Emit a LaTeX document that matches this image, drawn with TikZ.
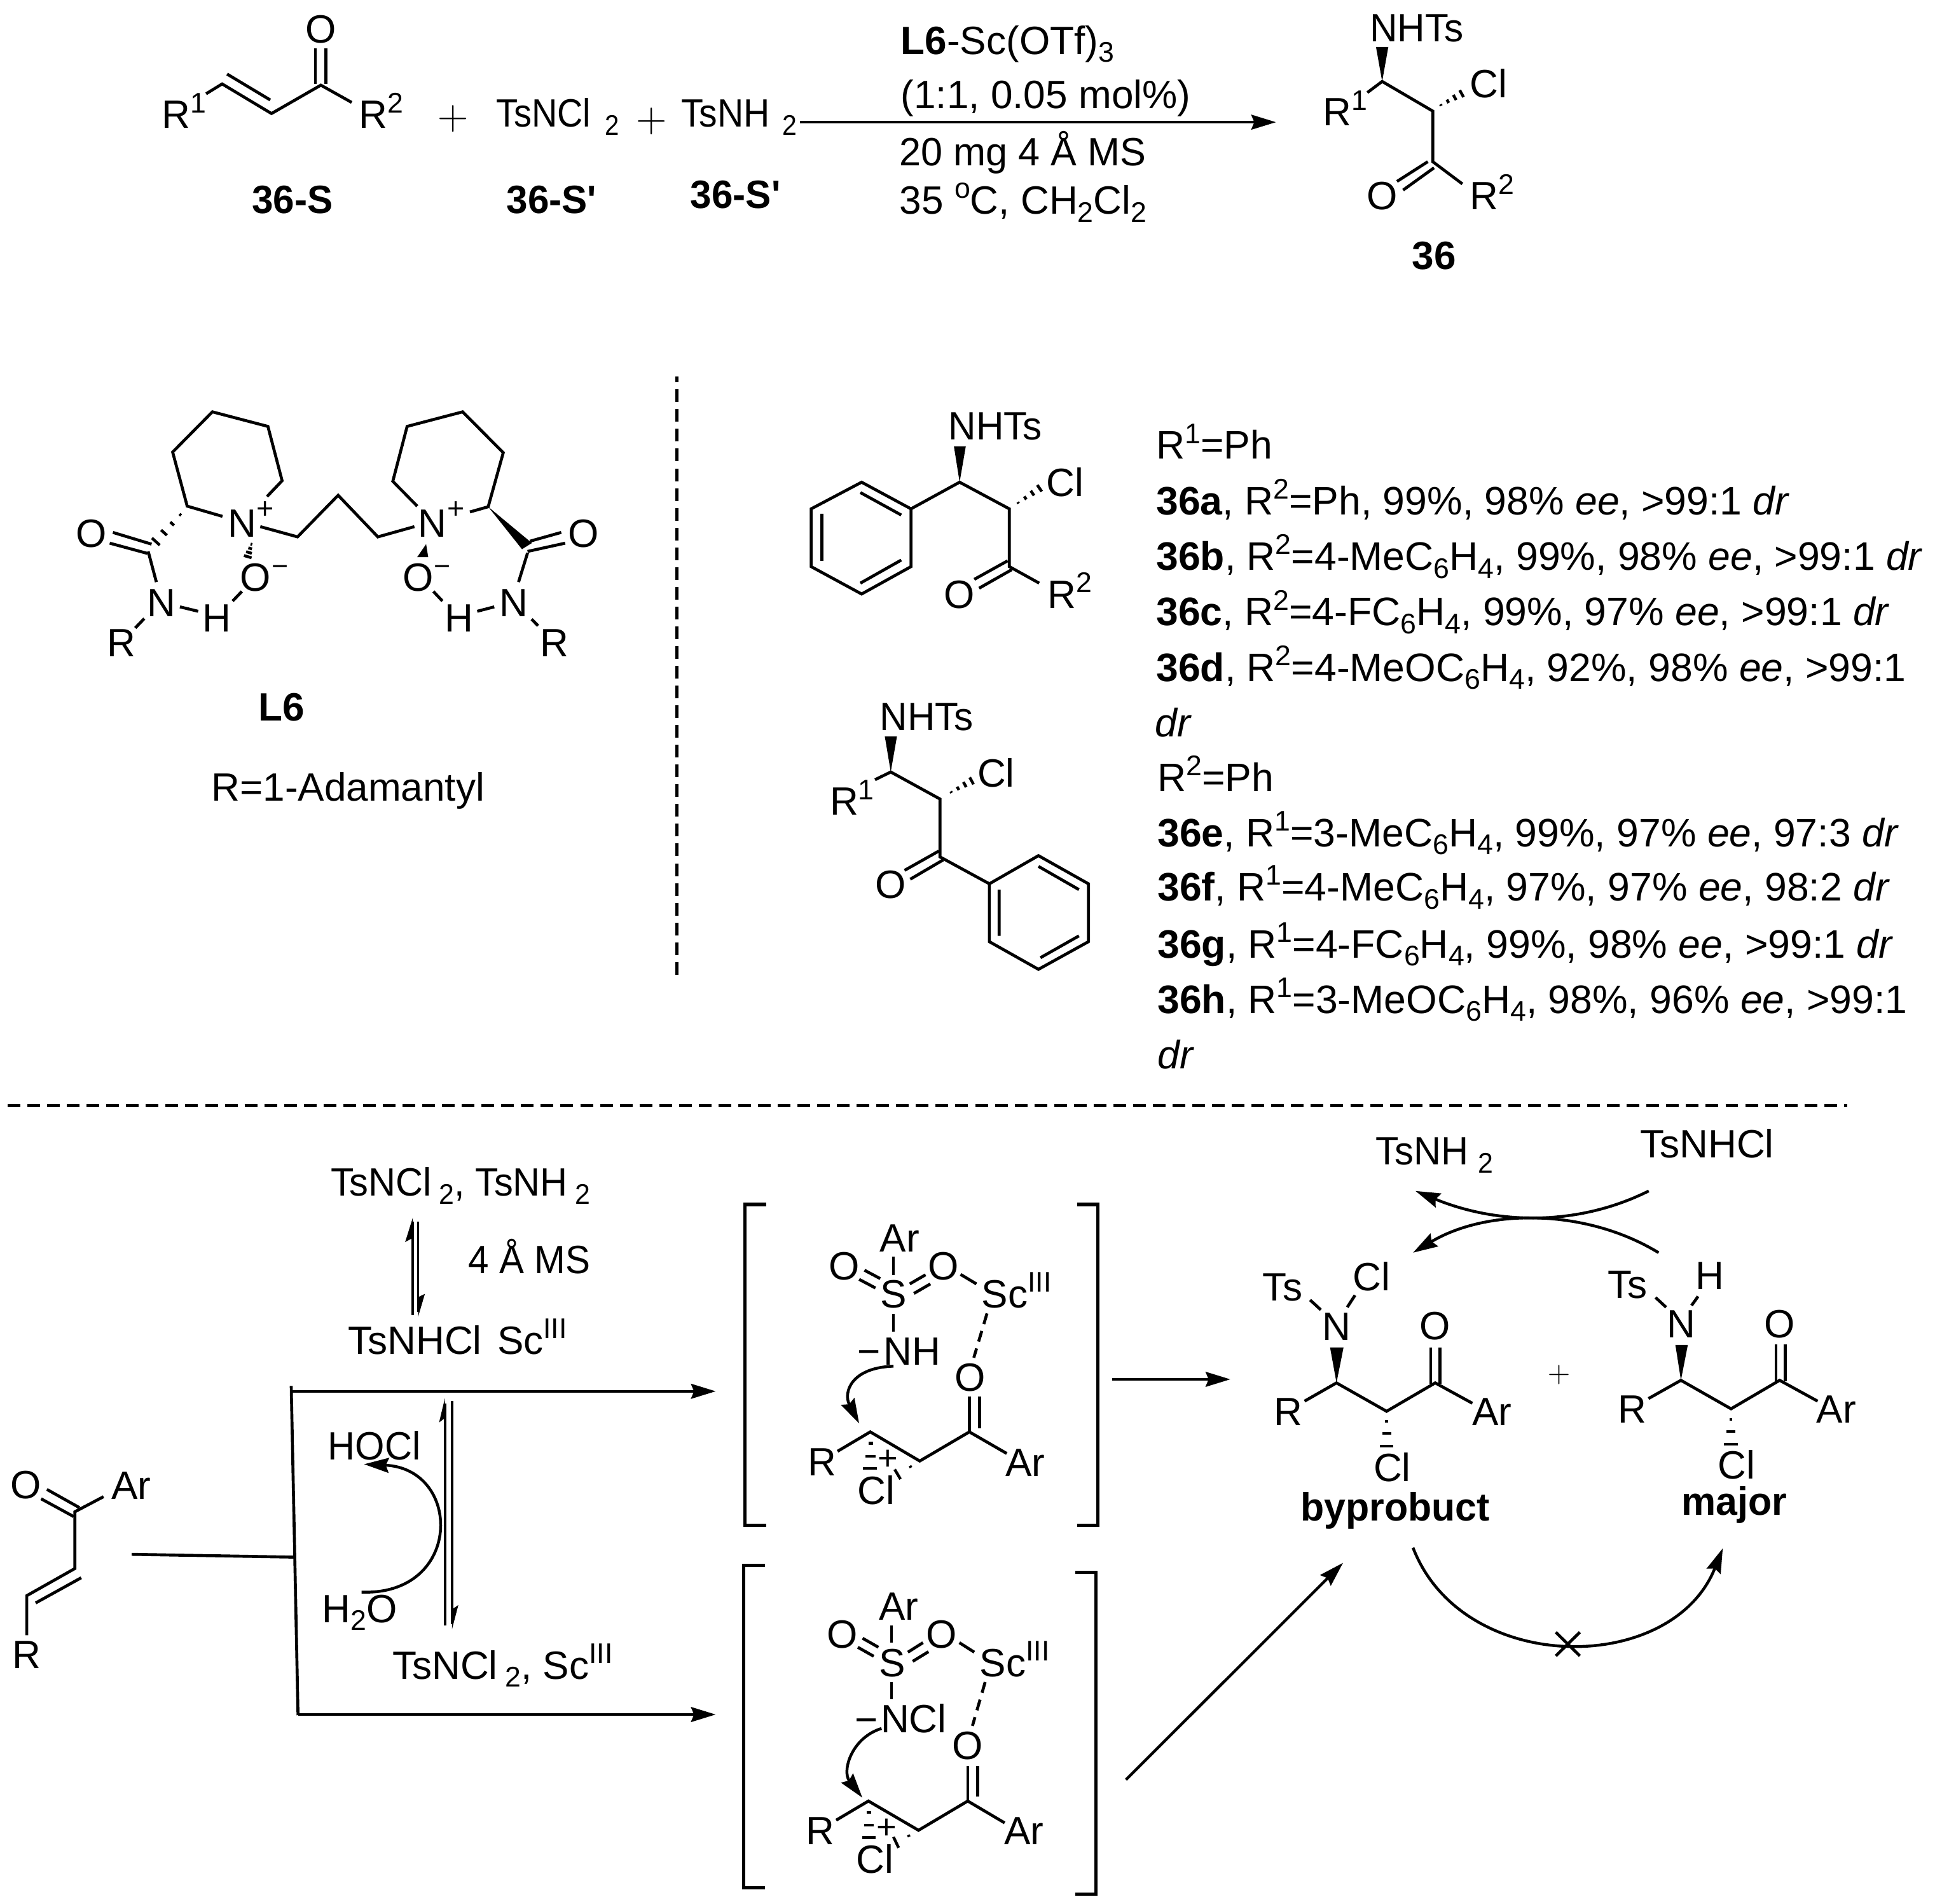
\documentclass[tikz,border=0pt]{standalone}
\usepackage{fontspec}
\usepackage{graphicx}
\setmainfont{Liberation Sans}
\usetikzlibrary{arrows.meta,calc}
\newcount\tn
\newcommand\up[1]{\raisebox{6.4pt}{\fontsize{11.5}{11.5}\selectfont #1}}
\newcommand\dn[1]{\raisebox{-3.2pt}{\fontsize{11.5}{11.5}\selectfont #1}}
\newcommand\Tc[4][1]{\global\advance\tn by 1\relax\node[lab,anchor=base] (t\the\tn) at (#2,#3) {\scalebox{#1}[1]{#4}};}
\newcommand\Tl[4][1]{\global\advance\tn by 1\relax\node[lab,anchor=base west] (t\the\tn) at (#2,#3) {\scalebox{#1}[1]{#4}};}
\newcommand\Li[3]{\global\advance\tn by 1\relax\node[lab,anchor=base west,font=\fontsize{16.1}{18}\selectfont] (t\the\tn) at (#1,#2) {#3};}
\newcommand\hb[5][3]{\coordinate (ha) at (#2,#3);\coordinate (hz) at (#4,#5);%
 \foreach \k in {0.08,0.36,0.64,0.92}{\pgfmathsetmacro\w{(0.15+\k)*#1*0.5}%
 \draw[hs] ($(ha)!\k!(hz)!\w pt!90:(hz)$) -- ($(ha)!\k!(hz)!\w pt!-90:(hz)$);}}
\newcommand\qq{\textquotesingle}
\tikzset{
 lab/.style={inner sep=0pt,outer sep=0pt,font=\fontsize{16}{18}\selectfont},
 bond/.style={line width=1.2pt,line join=miter},
 hs/.style={line width=1.15pt},
 arr/.style={line width=1.15pt,-{Stealth[length=10pt,width=6pt,inset=1.2pt]}},
 sep/.style={line width=1.3pt,dash pattern=on 5.15pt off 2.85pt},
 dsh/.style={line width=1.2pt,dash pattern=on 4.5pt off 2.9pt},
}
\begin{document}
\begin{tikzpicture}[x=0.5pt,y=-0.5pt]
\useasboundingbox (0,0) rectangle (1568,1542.7);
\fill[white] (0,0) rectangle (1568,1542.7);
% --- top scheme ---
\draw[bond] (167,76) -- (180,68) -- (220,92) -- (260,69) -- (285,83);
\draw[bond] (184,60) -- (219,81);
\draw[bond] (255.5,68) -- (255.5,39) (264,68) -- (264,39);
\Tc{260}{35}{O}
\Tl{131}{104}{R\up{1}}
\Tl{291}{104}{R\up{2}}
\Tc{367}{105}{\fontsize{18.7}{19}\selectfont$+$}
\Tl[.9]{402}{103}{TsNCl\hspace{6.5pt}\dn{2}}
\Tc{528}{107}{\fontsize{18.7}{19}\selectfont$+$}
\Tl[.92]{552}{103}{TsNH\hspace{5.5pt}\dn{2}}
\Tc[.97]{237}{173}{\textbf{36-S}}
\Tc[.97]{447}{173}{\textbf{36-S\qq}}
\Tc[.97]{596}{169}{\textbf{36-S\qq}}
\draw[arr] (648,99) -- (1034,99);
\Tl{730}{44}{\textbf{L6}-Sc(OTf)\dn{3}}
\Tl{730}{87.6}{(1:1, 0.05 mol\%)}
\Tl[.985]{729}{134}{20 mg 4 Å MS}
\Tl{729}{173.5}{35 \up{o}C, CH\dn{2}Cl\dn{2}}
% product 36
\Tl[.97]{1110}{33.5}{NHTs}
\fill (1120,66) -- (1115,38) -- (1125,38) -- cycle;
\draw[bond] (1108,75) -- (1120,66) -- (1161,90) -- (1161,131) -- (1185,149);
\draw[bond] (1157,131) -- (1132,147) (1162,136) -- (1137,154);
\hb[3]{1166}{86}{1186}{75}
\Tl{1191}{79}{Cl}
\Tc{1120}{170}{O}
\Tl{1191}{170}{R\up{2}}
\Tl{1072}{102}{R\up{1}}
\Tc{1162}{218}{\textbf{36}}
% --- L6 ---
\draw[bond] (216.4,402.3) -- (228.6,389.5) -- (217.1,345.5) -- (172.1,333.7) -- (139.9,366.3) -- (151.7,410.1) -- (180.3,418.4);
\hb[4]{148}{415}{124.4}{440.9}
\draw[bond] (91.5,431.4) -- (122.8,440.9) (88.9,440.1) -- (119.5,448.4);
\draw[bond] (120.1,446.8) -- (126.7,471.6);
\Tc{74.1}{443.2}{O}
\Tc{131}{499.5}{N}
\draw[bond] (116.9,501.2) -- (109.6,508.8);
\Tc{98.5}{532}{R}
\draw[bond] (145.8,491.7) -- (160.6,495.3);
\Tc{175.7}{511.8}{H}
\draw[bond] (188.5,487) -- (196,479.2);
\Tc{207.2}{478.7}{O}
\Tc{227}{466.7}{\fontsize{11.5}{12}\selectfont −}
\Tc{196.4}{435}{N}
\Tc{214.8}{420}{\fontsize{12}{12}\selectfont +}
\hb[3]{204}{440}{200.5}{452}
\draw[bond] (210.9,426.7) -- (241.1,435) -- (274,401.3) -- (306.2,435) -- (335.8,426.7);
\Tc{350.6}{435}{N}
\Tc{369.3}{420}{\fontsize{12}{12}\selectfont +}
\draw[bond] (338.1,410.1) -- (318.3,390) -- (329.9,345.5) -- (374.9,333.7) -- (407.8,366.8) -- (395.6,410.6) -- (380.8,414.8);
\fill (395.6,410.6) -- (423,445) -- (431,440) -- cycle;
\draw[bond] (429.5,438.5) -- (454.8,431.4) (427.5,446.8) -- (458,440.1);
\Tc{472.8}{443.2}{O}
\draw[bond] (427.5,448) -- (420.2,471.6);
\Tc{416.3}{499.5}{N}
\draw[bond] (430.8,501.7) -- (436,507);
\Tc{449.2}{532}{R}
\draw[bond] (400.5,491.7) -- (386.7,495.3);
\Tc{371.9}{511.8}{H}
\draw[bond] (358.5,487) -- (351.2,479.2);
\Tc{338.7}{478.7}{O}
\Tc{358.6}{466.7}{\fontsize{11.5}{12}\selectfont −}
\fill (345.3,440.9) -- (338,451.5) -- (347,451.5) -- cycle;
\Tc{228}{584}{\textbf{L6}}
\Tc{282}{649}{R=1-Adamantyl}
% separators
\draw[sep] (548.4,789.8) -- (548.4,305);
\draw[sep] (6.2,896) -- (1497,896);
% --- middle structures ---
\Tl[.97]{768.6}{356.3}{NHTs}
\fill (777.6,390.7) -- (773,361.7) -- (782.6,361.7) -- cycle;
\draw[bond] (698.2,390.7) -- (738.2,412.3) -- (738.2,459.1) -- (698.2,481.3) -- (657.3,459.1) -- (657.3,412.3) -- cycle;
\draw[bond] (697.2,399.1) -- (730.3,417.3) (730.3,453.8) -- (697.2,472.5) (666,416.3) -- (666,454.4);
\draw[bond] (738.2,412.3) -- (777.6,390.7) -- (817.9,412.3) -- (817.9,459.1) -- (842.1,472.5);
\draw[bond] (816.5,454.4) -- (789.5,469.4) (819.8,461.6) -- (793.4,476.6);
\Tc{777.6}{492.8}{O}
\Tl{849}{492.8}{R\up{2}}
\hb[3]{823.4}{408.5}{844}{394.5}
\Tl{848}{402.3}{Cl}
\Tl[.97]{713}{591.8}{NHTs}
\fill (721.8,625.5) -- (717,596.8) -- (726.8,596.8) -- cycle;
\draw[bond] (709,631.8) -- (721.8,625.5) -- (761.7,647.4) -- (761.7,694.3) -- (801.7,716.1);
\Tl{672.5}{660.5}{R\up{1}}
\hb[3]{769.2}{642.7}{788.9}{631.8}
\Tl{792}{637.4}{Cl}
\draw[bond] (760.7,689.6) -- (733,705.2) (764.2,696.8) -- (737.6,712.4);
\Tc{721.8}{728}{O}
\draw[bond] (801.7,716.1) -- (841.5,693.3) -- (882,716.1) -- (882,763) -- (841.5,785.4) -- (801.7,763) -- cycle;
\draw[bond] (841.5,702) -- (874.3,720.8) (874.3,758.3) -- (843.1,776) (809.6,720.8) -- (809.6,758.3);
% result list
\Li{937}{372}{R\up{1}=Ph}
\Li{937}{417}{\textbf{36a}, R\up{2}=Ph, 99\%, 98\% \textit{ee}, >99:1 \textit{dr}}
\Li{937}{462}{\textbf{36b}, R\up{2}=4-MeC\dn{6}H\dn{4}, 99\%, 98\% \textit{ee}, >99:1 \textit{dr}}
\Li{937}{507}{\textbf{36c}, R\up{2}=4-FC\dn{6}H\dn{4}, 99\%, 97\% \textit{ee}, >99:1 \textit{dr}}
\Li{937}{552}{\textbf{36d}, R\up{2}=4-MeOC\dn{6}H\dn{4}, 92\%, 98\% \textit{ee}, >99:1}
\Li{936}{597}{\textit{dr}}
\Li{938}{641}{R\up{2}=Ph}
\Li{938}{686}{\textbf{36e}, R\up{1}=3-MeC\dn{6}H\dn{4}, 99\%, 97\% \textit{ee}, 97:3 \textit{dr}}
\Li{938}{730}{\textbf{36f}, R\up{1}=4-MeC\dn{6}H\dn{4}, 97\%, 97\% \textit{ee}, 98:2 \textit{dr}}
\Li{938}{776}{\textbf{36g}, R\up{1}=4-FC\dn{6}H\dn{4}, 99\%, 98\% \textit{ee}, >99:1 \textit{dr}}
\Li{938}{821}{\textbf{36h}, R\up{1}=3-MeOC\dn{6}H\dn{4}, 98\%, 96\% \textit{ee}, >99:1}
\Li{938}{866}{\textit{dr}}
% --- bottom left ---
\Tl[.96]{268}{969.2}{TsNCl\hspace{3pt}\dn{2}, TsNH\hspace{3pt}\dn{2}}
\draw[line width=1pt] (334.5,1065.5) -- (334.5,990) (338.8,990) -- (338.8,1063);
\fill (334.5,986.6) -- (328.3,1006.4) -- (334.5,1003) -- cycle;
\fill (338.8,1067) -- (344.3,1048.4) -- (338.8,1051) -- cycle;
\Tl[.94]{379.7}{1031.7}{4 Å MS}
\Tl{282}{1097.4}{TsNHCl}
\Tl{403}{1097.4}{Sc\up{III}}
\draw[bond] (236,1123) -- (241.5,1389.8);
\draw[arr] (236,1127.3) -- (580,1127.3);
\draw[arr] (241.5,1389.2) -- (580,1389.2);
\draw[bond] (106.7,1259.4) -- (239.4,1261.7);
\draw[line width=1pt] (360.5,1316.9) -- (360.5,1137) (366.3,1135) -- (366.3,1316);
\fill (360.5,1132.9) -- (355.8,1152.6) -- (360.5,1149) -- cycle;
\fill (366.3,1320) -- (371.4,1300.5) -- (366.3,1304) -- cycle;
\draw[arr] (293,1290) .. controls (375,1293) and (375,1190) .. (295,1186.4);
\Tl[.96]{265.8}{1183}{HOCl}
\Tl{261}{1314.6}{H\dn{2}O}
\Tl{318}{1360.6}{TsNCl\hspace{3pt}\dn{2}, Sc\up{III}}
\Tc{21}{1214}{O}
\Tl{90.4}{1215}{Ar}
\draw[bond] (83.9,1212.7) -- (60.7,1224.9) -- (60.7,1270.9) -- (21.7,1292.9) -- (21.7,1325);
\draw[bond] (65.8,1278.4) -- (28.9,1298.8);
\draw[bond] (38,1206.8) -- (64.4,1221.6) (33.3,1214.4) -- (59.7,1228.8);
\Tc{21.7}{1352}{R}
% --- bracket A ---
\draw[line width=1.35pt] (620.8,975.9) -- (603.7,975.9) -- (603.7,1235.9) -- (620.8,1235.9);
\draw[line width=1.35pt] (872.8,975.9) -- (889.5,975.9) -- (889.5,1235.9) -- (872.8,1235.9);
\Tc{729}{1014.2}{Ar}
\draw[bond] (724,1018.2) -- (724,1032.9) (724,1064.8) -- (724,1079);
\Tc{724}{1059.6}{S}
\Tc{684}{1037}{O}
\draw[bond] (700.5,1029.2) -- (713.3,1036) (696.2,1036.6) -- (709.4,1043.6);
\Tc{764.5}{1037}{O}
\draw[bond] (750,1032.9) -- (737.2,1040.3) (753.9,1040.3) -- (740.6,1048);
\draw[bond] (778.4,1032.6) -- (791.2,1040.3);
\Tl{795.5}{1059.6}{Sc\up{III}}
\draw[dsh] (799.8,1064.2) -- (789.1,1100.1);
\Tc{785.9}{1127.3}{O}
\draw[bond] (785.5,1131.4) -- (785.5,1160.2) (793.8,1131.4) -- (793.8,1157.1);
\Tc{704}{1106}{\fontsize{16}{16}\selectfont −}
\Tl{716}{1106}{NH}
\draw[arr] (724,1107) .. controls (690,1108) and (683,1128) .. (696.2,1153.4);
\Tc{666}{1195.8}{R}
\draw[bond] (678.7,1175.9) -- (705.2,1160.2) -- (745.3,1183.8) -- (785.5,1160.2) -- (815.8,1177.7);
\Tl{814.7}{1196}{Ar}
\draw[hs] (703.7,1169.4) -- (707.5,1169.4) (701.5,1180.1) -- (709.6,1180.1) (699.4,1189.9) -- (710.7,1189.9);
\Tc{719.7}{1191}{\fontsize{14}{14}\selectfont +}
\Tl{695}{1218.8}{Cl}
\draw[hs] (737.4,1187.6) -- (738.2,1189.2) (725,1190.6) -- (729.7,1198.5);
% --- bracket B ---
\draw[line width=1.35pt] (620,1268.2) -- (602.6,1268.2) -- (602.6,1529.4) -- (620,1529.4);
\draw[line width=1.35pt] (871.4,1274) -- (888,1274) -- (888,1534.9) -- (871.4,1534.9);
\Tc{728.4}{1312.4}{Ar}
\draw[bond] (722.5,1316.8) -- (722.5,1331) (722.5,1362.9) -- (722.5,1377);
\Tc{722.9}{1358.3}{S}
\Tc{682.7}{1335.2}{O}
\draw[bond] (699,1327.4) -- (711.8,1334.7) (695.1,1334.7) -- (708,1342);
\Tc{762.8}{1335.2}{O}
\draw[bond] (747.9,1331) -- (735.7,1338.7) (752.4,1338.3) -- (739.6,1346.1);
\draw[bond] (777.4,1331) -- (789.5,1338.7);
\Tl{794}{1358.3}{Sc\up{III}}
\draw[dsh] (798.3,1362.9) -- (788,1398.4);
\Tc{784.2}{1425.3}{O}
\draw[bond] (784.2,1430.7) -- (784.2,1459.3) (792.3,1430.7) -- (792.3,1455.7);
\Tc{702.3}{1404.6}{\fontsize{16}{16}\selectfont −}
\Tl{713.7}{1403.8}{NCl}
\draw[arr] (714.3,1400.5) .. controls (690,1408) and (682,1435) .. (698.8,1456.6);
\Tc{664.6}{1494.8}{R}
\draw[bond] (677.6,1474.8) -- (703.7,1459.3) -- (744.3,1483) -- (784.2,1459.3) -- (814.1,1477);
\Tl{813.7}{1494.8}{Ar}
\draw[hs] (702.2,1468.4) -- (705.8,1468.4) (700,1478.8) -- (708,1478.8) (698.8,1488.8) -- (709.7,1488.8);
\Tc{718.6}{1490}{\fontsize{14}{14}\selectfont +}
\Tl{694}{1517.6}{Cl}
\draw[hs] (736,1486.7) -- (736.8,1488.3) (724,1488.4) -- (728.2,1497.2);
% --- right part ---
\draw[arr] (901.3,1117.6) -- (997,1117.6);
\draw[arr] (912.4,1442) -- (1088.3,1266.3);
\Tl[.96]{1115}{943.9}{TsNH\hspace{4pt}\dn{2}}
\Tl{1329}{938}{TsNHCl}
\draw[arr] (1336,965) .. controls (1280,993) and (1215,993) .. (1147,965);
\draw[arr] (1344,1015) .. controls (1285,979) and (1205,979) .. (1145,1015);
% byproduct
\Tl{1023.3}{1053.9}{Ts}
\Tl{1096.2}{1045.9}{Cl}
\draw[bond] (1061.6,1053.3) -- (1070.3,1061.3) (1098,1049.5) -- (1091.7,1059.2);
\Tc{1083}{1085.9}{N}
\fill (1083,1120.5) -- (1077.8,1091.8) -- (1088.7,1091.8) -- cycle;
\draw[bond] (1057.1,1135.3) -- (1083,1120.5) -- (1123.6,1143.5) -- (1163,1120.5) -- (1193.1,1137);
\draw[bond] (1159.3,1091.8) -- (1159.3,1121) (1166.8,1091.8) -- (1166.8,1121);
\Tc{1163}{1085.3}{O}
\Tc{1044}{1154.8}{R}
\Tl{1193}{1154.8}{Ar}
\draw[hs] (1122.5,1151.5) -- (1124.7,1151.5) (1120,1161.3) -- (1127.2,1161.3) (1118,1171.6) -- (1129.2,1171.6);
\Tl{1113}{1200.3}{Cl}
\Tc[.98]{1130.5}{1232.3}{\textbf{byprobuct}}
\Tc{1263.3}{1120}{\fontsize{12.8}{13}\selectfont$+$}
% major
\Tl{1302.8}{1051.8}{Ts}
\Tc{1385.6}{1044.5}{H}
\draw[bond] (1341.5,1051.3) -- (1350.1,1059.2) (1376,1050.4) -- (1370.7,1057.8);
\Tc{1362.1}{1083.8}{N}
\fill (1362.1,1118.4) -- (1357.6,1089.7) -- (1367.7,1089.7) -- cycle;
\draw[bond] (1335.8,1133.2) -- (1362.1,1118.4) -- (1402.7,1141.5) -- (1442.1,1118.4) -- (1472.9,1135.3);
\draw[bond] (1439.1,1089.4) -- (1439.1,1119) (1446.6,1089.4) -- (1446.6,1119);
\Tc{1442.1}{1083.8}{O}
\Tc{1322.7}{1153}{R}
\Tl{1472}{1153}{Ar}
\draw[hs] (1401.6,1150) -- (1403.8,1150) (1399.2,1160) -- (1406.2,1160) (1397,1170.2) -- (1408.4,1170.2);
\Tl{1392}{1198.3}{Cl}
\Tc[.98]{1405.2}{1227.8}{\textbf{major}}
\draw[arr] (1145,1254) .. controls (1185,1358) and (1355,1358) .. (1396,1254.5);
\draw[bond] (1260.7,1322.5) -- (1280.2,1341.7) (1280.2,1322.5) -- (1260.7,1341.7);
\end{tikzpicture}
\end{document}
